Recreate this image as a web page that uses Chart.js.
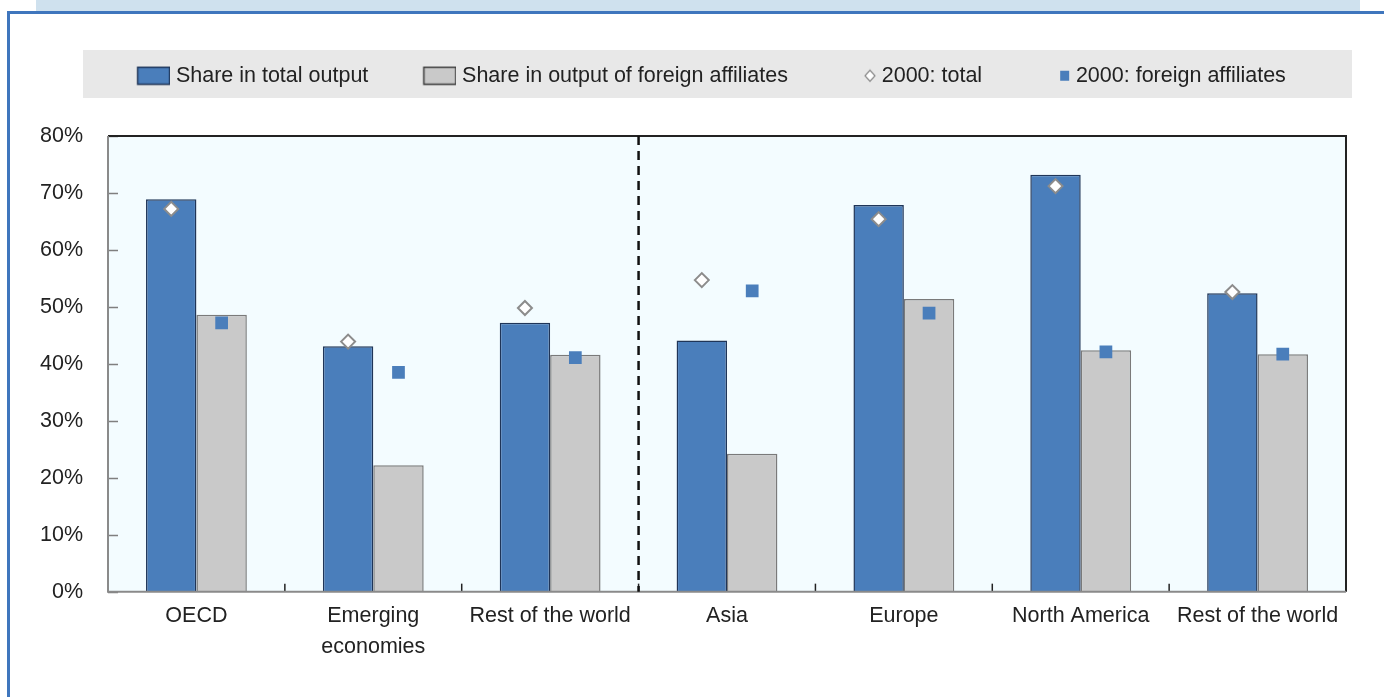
<!DOCTYPE html>
<html>
<head>
<meta charset="utf-8">
<script src="https://cdn.jsdelivr.net/npm/chart.js@4.4.1/dist/chart.umd.min.js"></script>
<style>
  html, body { margin: 0; padding: 0; background: #fff; }
  #wrap { position: relative; width: 1384px; height: 697px; overflow: hidden; }
  #band { position: absolute; left: 36px; top: 0; width: 1324px; height: 11px; background: #cfe1ee; }
  #frame { position: absolute; left: 7px; top: 11px; width: 1400px; height: 700px;
           border-top: 3px solid #3f76bd; border-left: 3px solid #3f76bd; }
  #box { position: absolute; left: 0; top: 0; width: 1384px; height: 697px; }
</style>
</head>
<body>
<div id="wrap">
  <div id="band"></div>
  <div id="frame"></div>
  <div id="box"><canvas id="chart"></canvas></div>
</div>
<script>
// values (percent)
const categories = ["OECD", ["Emerging", "economies"], "Rest of the world", "Asia", "Europe", "North America", "Rest of the world"];
const shareTotal   = [68.9, 43.1, 47.2, 44.1, 67.9, 73.2, 52.4];
const shareForeign = [48.6, 22.2, 41.6, 24.2, 51.4, 42.4, 41.7];
const total2000    = [67.2, 43.9, 49.8, 54.7, 65.4, 71.2, 52.6];
const foreign2000  = [47.2, 38.5, 41.1, 52.8, 48.9, 42.1, 41.7];
const seriesNames  = ["Share in total output", "Share in output of foreign affiliates", "2000: total", "2000: foreign affiliates"];

const BLUE = "#4a7ebb";
const GREY = "#c9c9c9";
const TEXT = "#222";

// little canvases used as legend symbols
function legendSymbol(kind) {
  const c = document.createElement("canvas");
  c.width = 38; c.height = 20;
  const g = c.getContext("2d");
  if (kind === "blue" || kind === "grey") {
    g.fillStyle = kind === "blue" ? BLUE : GREY;
    g.fillRect(5.5, 1.5, 32, 17);
    g.lineWidth = 1.5;
    g.strokeStyle = kind === "blue" ? "#1f3558" : "#3a3a3a";
    g.strokeRect(5.5, 1.5, 32, 17);
  } else if (kind === "diamond") {
    g.beginPath();
    g.moveTo(32, 4.5); g.lineTo(37, 10); g.lineTo(32, 15.5); g.lineTo(27, 10); g.closePath();
    g.fillStyle = "#fff"; g.fill();
    g.lineWidth = 1.2; g.strokeStyle = "#8c8c8c"; g.stroke();
  } else {
    g.fillStyle = BLUE;
    g.fillRect(28, 5, 9, 10);
  }
  return c;
}
const symbols = [legendSymbol("blue"), legendSymbol("grey"), legendSymbol("diamond"), legendSymbol("square")];

// put the 2000 markers over their own bar instead of the category centre
const alignPoints = {
  id: "alignPoints",
  afterDatasetsUpdate(chart) {
    const blue = chart.getDatasetMeta(0).data;
    const grey = chart.getDatasetMeta(1).data;
    chart.getDatasetMeta(2).data.forEach((pt, i) => { pt.x = blue[i].x; });
    chart.getDatasetMeta(3).data.forEach((pt, i) => { pt.x = grey[i].x; });
  }
};

const decor = {
  id: "decor",
  beforeInit(chart) {
    const fit = chart.legend.fit;
    chart.legend.fit = function () {
      fit.call(this);
      this.height = 126;
    };
  },
  afterLayout(chart) {
    // the legend row sits a little right of centre in the original
    chart.legend.left += 39;
  },
  beforeDraw(chart) {
    const { ctx, chartArea: a } = chart;
    ctx.save();
    ctx.fillStyle = "#e8e8e8";
    ctx.fillRect(a.left - 25, 50, a.right - a.left + 31, 48);
    ctx.fillStyle = "#f3fcff";
    ctx.fillRect(a.left, a.top, a.right - a.left, a.bottom - a.top);
    ctx.restore();
  },
  afterDatasetsDraw(chart) {
    const { ctx, chartArea: a, scales: { x, y } } = chart;
    ctx.save();
    // inward y ticks
    ctx.strokeStyle = "#7f7f7f";
    ctx.lineWidth = 1.5;
    y.ticks.forEach(t => {
      const py = Math.round(y.getPixelForValue(t.value)) + 0.5;
      ctx.beginPath(); ctx.moveTo(a.left, py); ctx.lineTo(a.left + 10, py); ctx.stroke();
    });
    // inward x ticks between categories
    ctx.strokeStyle = "#222";
    for (let i = 0; i < categories.length - 1; i++) {
      const px = (x.getPixelForValue(i) + x.getPixelForValue(i + 1)) / 2;
      ctx.beginPath(); ctx.moveTo(px, a.bottom); ctx.lineTo(px, a.bottom - 8); ctx.stroke();
    }
    // frame of the plot
    ctx.lineWidth = 2;
    ctx.strokeStyle = "#222";
    ctx.beginPath(); ctx.moveTo(a.left, a.top); ctx.lineTo(a.right, a.top); ctx.lineTo(a.right, a.bottom); ctx.stroke();
    ctx.strokeStyle = "#8a8a8a";
    ctx.beginPath(); ctx.moveTo(a.left, a.top); ctx.lineTo(a.left, a.bottom); ctx.lineTo(a.right, a.bottom); ctx.stroke();
    // dashed split between country groups and regions
    const split = (x.getPixelForValue(2) + x.getPixelForValue(3)) / 2;
    ctx.strokeStyle = "#111";
    ctx.lineWidth = 2.5;
    ctx.setLineDash([9, 6]);
    ctx.beginPath(); ctx.moveTo(split, a.top); ctx.lineTo(split, a.bottom); ctx.stroke();
    ctx.restore();
  }
};

const font = { family: "'Liberation Sans', Arial, sans-serif", size: 21.5 };

new Chart(document.getElementById("chart"), {
  type: "bar",
  data: {
    labels: categories,
    datasets: [
      { label: seriesNames[0], data: shareTotal, backgroundColor: BLUE, borderColor: "#1f3558",
        borderWidth: 1.5, order: 2 },
      { label: seriesNames[1], data: shareForeign, backgroundColor: GREY, borderColor: "#7a7a7a",
        borderWidth: 1.5, order: 2 },
      { type: "line", label: seriesNames[2], data: total2000, showLine: false, pointStyle: "rectRot",
        pointRadius: 7, pointBackgroundColor: "#fff", pointBorderColor: "#8c8c8c", pointBorderWidth: 2, order: 1 },
      { type: "line", label: seriesNames[3], data: foreign2000, showLine: false, pointStyle: "rect",
        pointRadius: 9, pointBackgroundColor: BLUE, pointBorderColor: BLUE, pointBorderWidth: 0, order: 1 }
    ]
  },
  options: {
    responsive: true,
    maintainAspectRatio: false,
    animation: false,
    layout: { padding: { left: 38, right: 38, top: 10, bottom: 25 } },
    datasets: { bar: { categoryPercentage: 0.57, barPercentage: 1.0 } },
    plugins: {
      tooltip: { enabled: false },
      legend: {
        position: "top",
        labels: {
          usePointStyle: true,
          pointStyleWidth: 28,
          padding: 55,
          font: font,
          color: TEXT,
          generateLabels: () => seriesNames.map((name, i) => ({
            text: name, pointStyle: symbols[i], fillStyle: "transparent",
            strokeStyle: "transparent", lineWidth: 0, hidden: false, datasetIndex: i, fontColor: TEXT
          }))
        }
      }
    },
    scales: {
      x: {
        grid: { display: false, drawTicks: false },
        border: { display: false },
        ticks: { font: { ...font, lineHeight: 1.45 }, color: TEXT, padding: 9, maxRotation: 0, autoSkip: false }
      },
      y: {
        min: 0, max: 80,
        grid: { display: false, drawTicks: false },
        border: { display: false },
        afterFit(scale) { scale.width = 70; },
        ticks: { stepSize: 10, font: font, color: TEXT, padding: 25, callback: v => v + "%" }
      }
    }
  },
  plugins: [alignPoints, decor]
});
</script>
</body>
</html>
